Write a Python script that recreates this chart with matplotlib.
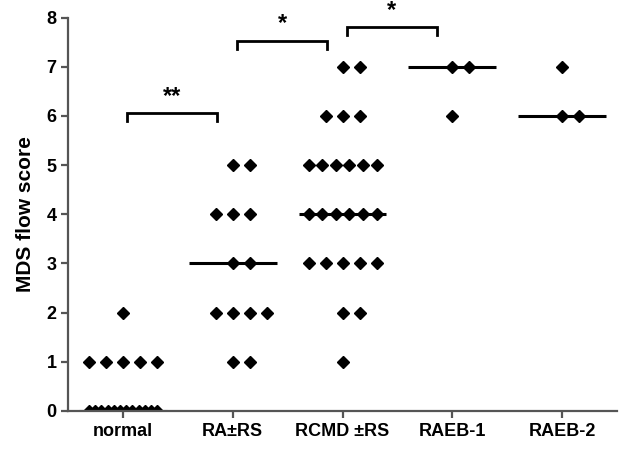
import matplotlib
matplotlib.use('Agg')
import matplotlib.pyplot as plt
import numpy as np

# groups and their MDS flow scores
groups = ['normal', 'RA\u00b1RS', 'RCMD \u00b1RS', 'RAEB-1', 'RAEB-2']
normal = [0] * 12 + [1] * 5 + [2]
ra_rs = [1, 1, 2, 2, 2, 2, 3, 3, 4, 4, 4, 5, 5]
rcmd_rs = [1, 2, 2] + [3] * 5 + [4] * 6 + [5] * 6 + [6] * 3 + [7] * 2
raeb1 = [6, 7, 7]
raeb2 = [6, 6, 7]
scores = [normal, ra_rs, rcmd_rs, raeb1, raeb2]

# significance brackets: (left group, right group, label)
brackets = [(0, 1, '**'), (1, 2, '*'), (2, 3, '*')]

plt.rcParams['font.family'] = ['Liberation Sans', 'DejaVu Sans']
plt.rcParams['font.weight'] = 'bold'

fig = plt.figure(figsize=(6.2, 4.51), dpi=100)
ax = fig.add_axes([0.110, 0.089, 0.885, 0.872])


def spread(n):
    # scatter points in a row side by side, squeezing wide rows
    step = min(0.155, 0.62 / max(n - 1, 1))
    if n <= 5:
        return (np.arange(n) - (n - 1) // 2) * step
    return (np.arange(n) - (n - 1) / 2) * step


for i, vals in enumerate(scores):
    xpos = i + 1
    vals = np.array(vals)
    for v in np.unique(vals):
        n = np.sum(vals == v)
        ax.plot(xpos + spread(n), [v] * n, 'D', color='black',
                markersize=6, zorder=2)
    med = np.median(vals)
    ax.plot([xpos - 0.4, xpos + 0.4], [med, med], color='black', lw=2.2,
            solid_capstyle='butt', zorder=2)

# bracket heights
heights = [6.05, 7.52, 7.8]
for (a, b, lab), h in zip(brackets, heights):
    x1, x2 = a + 1.04, b + 0.86
    ax.plot([x1, x1, x2, x2], [h - 0.16, h, h, h - 0.16], color='black',
            lw=2, solid_joinstyle='miter', clip_on=False)
    ax.text((x1 + x2) / 2, h + 0.12, lab, ha='center', va='bottom',
            fontsize=17, fontweight='bold')

ax.set_xlim(0.5, 5.5)
ax.set_ylim(0, 8)
ax.set_xticks(range(1, 6))
ax.set_xticklabels(groups)
ax.set_yticks(range(0, 9))
ax.set_ylabel('MDS flow score', fontsize=15, fontweight='bold', labelpad=8)

for s in ['top', 'right']:
    ax.spines[s].set_visible(False)
for s in ['left', 'bottom']:
    ax.spines[s].set_color('#555555')
    ax.spines[s].set_linewidth(1.6)
    ax.spines[s].set_zorder(4)
ax.tick_params(axis='both', colors='#555555', width=1.6, length=5,
               labelcolor='black', labelsize=13)
for lbl in ax.get_xticklabels() + ax.get_yticklabels():
    lbl.set_fontweight('bold')

fig.savefig('out.png', dpi=100)
